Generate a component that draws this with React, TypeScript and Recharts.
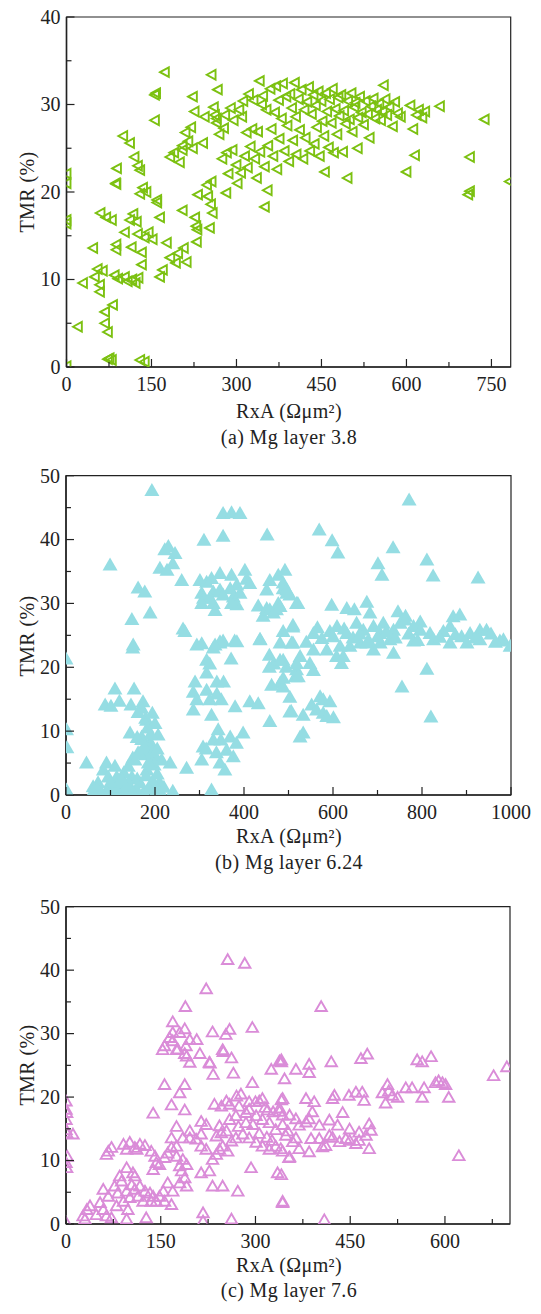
import { ScatterChart, Scatter, XAxis, YAxis, ReferenceArea } from "recharts";

type Pt = [number, number];

// (a) Mg layer 3.8 — [RxA, TMR]
const mg38: Pt[] = [
  [0, 22.1], [0, 21], [0, 16.8], [0, 16.4], [0, 0.1],
  [20, 4.6], [29, 9.6], [47, 13.6], [50, 10.3], [55, 11.2], [59, 9.4], [59, 8.6], [60, 17.6], [64, 11], [68, 6.3],
  [68, 5.0], [70, 17.1], [73, 4.0], [73, 0.9], [76, 1.0], [80, 0.8], [80, 16.8], [82, 7.1], [85, 10.5], [87, 21],
  [88, 20.9], [88, 14], [88, 13.4], [89, 22.7], [91, 10.1], [100, 26.4], [103, 15.4], [103, 10.3], [108, 9.8],
  [112, 25.6], [112, 16.8], [115, 13.7], [116, 10], [118, 17.5], [120, 24], [122, 9.6], [124, 16.6], [126, 23],
  [126, 15.2], [127, 10.2], [130, 19.8], [130, 22.5], [130, 0.8], [133, 13.1], [133, 11.7], [135, 20.5], [138, 0.6],
  [138, 14.8], [141, 20], [145, 15.4], [152, 14.6], [156, 31.1], [158, 31.3], [156, 28.2], [160, 18.8], [160, 19.1],
  [165, 17.1], [165, 10.3], [170, 11.1], [173.5, 33.7], [177, 14.2], [183, 24], [183, 12.5], [190, 24.5], [193, 11.9],
  [197, 13.0], [200, 23.4], [205, 25.3], [205, 17.9], [205, 24.8], [207, 13.6], [212, 12], [210, 26.8], [215, 25.8],
  [220, 27.4], [223, 25], [223, 30.9], [227, 17.1], [229, 16.1], [231, 15.7], [230, 14.3], [226, 29.2], [232, 19.7],
  [241, 25.6], [244, 28.6], [248, 20.8], [250, 19.5], [253, 15.9], [255, 18.6], [258, 17.6], [256, 33.4], [256, 21.2],
  [260, 29.7], [262, 28.8], [265, 27.9], [265, 28.4], [267, 31.7], [270, 26.6], [275, 23.8], [278, 27.3], [280, 28.8],
  [282, 19.9], [283, 24.5], [286, 22.1], [290, 29.6], [293, 24.8], [295, 28.2], [300, 23.1], [302, 21], [305, 29.4],
  [308, 22.2], [310, 28.6], [312, 30.4], [315, 24.1], [318, 26.8], [320, 22.8], [322, 31.2], [325, 25.2], [328, 27.2],
  [330, 30.5], [333, 23.8], [336, 21.6], [338, 26.9], [341, 32.7], [342, 24.6], [345, 30], [347, 31], [350, 18.3],
  [350, 22.9], [353, 29.4], [355, 20.2], [356, 25.3], [360, 31.8], [362, 27.2], [365, 24.1], [368, 29.1], [370, 32.1],
  [372, 22.6], [375, 30.5], [376, 26.1], [380, 28.4], [382, 32.4], [385, 24.7], [388, 30.9], [390, 27.6], [393, 23.5],
  [395, 31.2], [398, 29.6], [400, 25.9], [403, 32.5], [405, 28.6], [406, 24.3], [410, 30.6], [412, 27.1], [415, 31.7],
  [418, 23.8], [420, 29.4], [422, 26.2], [425, 30.3], [428, 32], [430, 24.7], [433, 28.9], [436, 31.1], [438, 25.5],
  [440, 29.9], [442, 27.4], [445, 31.5], [447, 24.1], [450, 30.4], [452, 28.1], [455, 26.4], [456, 22.3], [458, 31.3],
  [460, 29.2], [463, 25.1], [465, 30.6], [468, 27.9], [470, 31.8], [472, 24.5], [475, 29.5], [478, 26.6], [480, 30.8],
  [482, 28.7], [485, 31.1], [488, 24.6], [490, 29.3], [493, 27.8], [496, 21.6], [497, 30.4], [500, 28.3], [503, 31.3],
  [505, 26.9], [508, 29.7], [510, 30.2], [514, 25], [515, 28.5], [518, 30.9], [521, 29.1], [525, 27.7], [528, 30.4],
  [532, 28.9], [535, 26.2], [538, 29.8], [542, 30.7], [545, 28.4], [548, 29.4], [552, 30.1], [555, 28.2], [558, 29.2],
  [560, 32.2], [563, 30.6], [566, 28.8], [570, 29.7], [576, 27.5], [580, 30.3], [585, 29], [590, 28.6], [600, 22.3],
  [607, 29.9], [612, 27.2], [615, 24.2], [618, 28.8], [622, 29.4], [628, 28.5], [633, 29.2], [659, 29.8], [709, 19.7],
  [712, 20.1], [712, 24], [738, 28.3], [782, 21.2],
];

// (b) Mg layer 6.24
const mg624: Pt[] = [
  [0, 21.3], [1, 10.2], [2, 7.4], [1, 0.8], [3, 0.3],
  [46, 5.0], [84, 3.9], [91, 5], [95, 2.8], [72, 1.9], [61, 1.3], [70, 0.8], [114, 2.8], [129, 2.3], [148, 2.8],
  [166, 1.9], [189, 1.3], [204, 0.8], [211, 0.7], [234, 5], [271, 4.2], [100, 0.8], [123, 0.8], [146, 0.8],
  [144, 9.7], [170, 9.1], [189, 8.3], [207, 9.4], [187, 7.4], [179, 6.3], [200, 6], [162, 6.6], [150, 5.8], [198, 4.7],
  [182, 3.9], [110, 16.6], [153, 16.6], [88, 14.1], [101, 13.9], [120, 14.7], [146, 14.1], [173, 14.6], [170, 13.6],
  [162, 12.9], [181, 11.7], [179, 12], [150, 23],
  [120, 1.5], [130, 3.5], [140, 4.5], [155, 5.5], [160, 2.5], [165, 6.5], [175, 7.5], [180, 3], [185, 5], [190, 9.5],
  [195, 6.8], [205, 7.2], [210, 2], [215, 5.5], [220, 1.2], [175, 0.5], [160, 0.7], [135, 0.9], [110, 1.2], [100, 2],
  [90, 0.5], [80, 0.3], [140, 1.8], [125, 2.5], [150, 0.4], [195, 2.2], [185, 1], [170, 8.7], [205, 3.3], [183, 10.5],
  [200, 11.2], [160, 9], [194, 12.8], [110, 4.5], [60, 0.4], [240, 0.6], [327, 0.8],
  [308, 7.5], [331, 8.6], [342, 10.2], [348, 8.6], [369, 9.1], [383, 8.1], [398, 9.7], [376, 6], [346, 5], [357, 3.9],
  [305, 5.5], [315, 7.2], [338, 6.6], [361, 7],
  [290, 17.7], [316, 19.1], [339, 17.7], [354, 17.7], [286, 16.1], [316, 16.4], [339, 15.8], [294, 14.9], [286, 13.3],
  [323, 14.9], [349, 14.9], [380, 13.8], [413, 14.6], [432, 14.3], [327, 12.5], [458, 11.5], [503, 13], [526, 9.1],
  [316, 21.1], [323, 20.5], [371, 21.3], [457, 21.9], [467, 20.5], [488, 21.1], [457, 20], [495, 20], [518, 19.6],
  [515, 18.5], [481, 17.5], [462, 17.2], [488, 16.9], [503, 15.3],
  [294, 23.5], [331, 23], [346, 23.8], [353, 24.1], [379, 24.1], [436, 24.4], [488, 25.6], [481, 23.8], [507, 23.8],
  [267, 25.6],
  [193, 47.7], [353, 44.1], [372, 44.2], [391, 44.1], [310, 39.9], [353, 40.5], [452, 40.7], [222, 38.4], [230, 38.9],
  [245, 37.8], [240, 36.2], [99, 36], [211, 35.5], [227, 35.2], [260, 33.6], [162, 32.4], [177, 31.8], [189, 28.5],
  [148, 27.5], [263, 26],
  [301, 33.6], [316, 33.3], [327, 33.9], [346, 34.7], [372, 34.4], [402, 35.2], [406, 33.8], [413, 33.1], [384, 32.9],
  [369, 32.3], [331, 31.8], [305, 31.6], [309, 30.8], [323, 30.8], [346, 32.1], [353, 31.3], [376, 31], [391, 31.6],
  [384, 29.8], [372, 30], [305, 30], [331, 30], [335, 28.9], [432, 29.6], [451, 29.2], [443, 28], [458, 29], [473, 29],
  [477, 30], [466, 28.5], [451, 32.1], [458, 33.6], [477, 34.4], [492, 35.2], [488, 32.3], [496, 31.6], [503, 31.3],
  [518, 30], [510, 26.3], [436, 24.3], [384, 24], [346, 24], [335, 23.5], [305, 23.7], [151, 23.5],
  [771, 46.2], [569, 41.5], [598, 39.8], [611, 37.9], [735, 38.7], [701, 36.2], [710, 34.4], [811, 36.8], [825, 34.3],
  [926, 34], [488, 33.2], [496, 32.1], [521, 30], [481, 29.5], [510, 26.6],
  [597, 29.7], [631, 29.2], [648, 29], [676, 30.2], [683, 28.5], [746, 28.7], [763, 28], [796, 27.1], [870, 27.9],
  [885, 28.2],
  [556, 25.3], [593, 25.6], [609, 26.4], [631, 25.3], [653, 26.9], [668, 25.8], [691, 26.4], [706, 25.3], [713, 26.9],
  [736, 25.8], [751, 26.9], [762, 27.4], [781, 26.4], [796, 25.8], [818, 25.3], [848, 25.6], [863, 26.4], [889, 24.8],
  [908, 25.3], [930, 25.8], [945, 25.8], [983, 24.3], [998, 23.3],
  [510, 23.8], [481, 21.1], [488, 18.3], [518, 20.6], [526, 21.7], [548, 20.6], [556, 19.5], [522, 18.5], [608, 21.7],
  [619, 20.6], [623, 21.7], [556, 22.7], [586, 22.7], [616, 23.3], [638, 23.3], [661, 23.8], [691, 22.7], [736, 22.2],
  [706, 23.8], [676, 23.8], [728, 24.3], [781, 24.1], [826, 24.3], [863, 23.8], [901, 23.8], [930, 24.3], [975, 24.1],
  [575, 24.5], [600, 24.8], [645, 24.6], [660, 25.2], [700, 24.8], [720, 25.6], [740, 24.6], [770, 25.2], [790, 24.2],
  [840, 24.7], [875, 25.1], [920, 24.6], [955, 25.2], [965, 23.9], [540, 23.9], [565, 26.2], [625, 26], [680, 24.2],
  [811, 19.7], [755, 16.9], [820, 12.2], [533, 9.7], [552, 14.1], [571, 15.4], [578, 14.9], [593, 14.6], [563, 13.3],
  [578, 12.8], [601, 12.1], [506, 13.1], [533, 12.5], [586, 12.3],
];

// (c) Mg layer 7.6
const mg76: Pt[] = [
  [0, 19.3], [0, 18], [1, 17.5], [0, 16.4], [0, 14.8], [1, 14.3], [11, 14.1], [2, 10.6], [0, 9.6], [1, 8.8], [0, 0.2],
  [64, 10.9], [72, 12], [91, 12.5], [101, 12.8], [109, 12], [117, 12.5], [125, 12.3], [96, 11.7], [112, 11.7], [67, 11.4],
  [96, 8.8], [85, 7.5], [88, 6.7], [106, 8], [109, 7.5], [77, 5.9], [59, 5.4], [67, 4.3], [54, 3.3], [38, 2.8],
  [33, 2.2], [27, 1.2], [30, 0.7], [48, 1.4], [64, 1.2], [72, 0.9], [96, 0.7], [80, 2.8], [91, 3.5], [101, 4.1],
  [109, 5.4], [117, 5.9], [125, 5.1], [133, 4.8], [138, 4.3], [148, 4.3], [156, 3.5], [167, 3], [98, 2.2], [127, 0.9],
  [82, 4.8], [96, 5.1], [104, 6.1], [114, 4.3], [122, 3.5], [135, 3.5], [143, 3.5], [154, 5.1], [161, 6.4], [169, 5.1],
  [59, 2.2],
  [135, 11.4], [141, 10.6], [143, 9.6], [138, 8.5], [148, 9.3], [156, 10.4], [161, 11.1], [167, 12], [167, 13.5],
  [175, 12.2], [185, 13.5], [196, 13.5], [206, 13.3], [214, 14.1], [214, 12.2], [222, 11.7], [175, 10.6], [185, 10.1],
  [191, 9.3], [180, 9.1], [183, 8.3], [188, 7.2], [180, 6.4], [191, 5.9], [214, 8], [227, 8.3], [232, 10.1], [238, 10.9],
  [243, 11.7], [248, 12.2], [256, 11.4], [262, 13], [269, 13.5], [280, 14.1], [290, 13.5], [301, 12.8], [311, 12.2],
  [322, 11.7], [332, 12.2], [343, 11.4], [353, 10.4], [364, 13.5], [351, 14.6], [343, 15.6], [332, 14.8], [322, 15.9],
  [311, 16.4], [301, 17], [290, 18], [285, 17.5], [274, 18.5], [259, 18.8], [246, 18.5], [259, 16.4], [269, 17],
  [243, 15.4], [238, 13.8], [246, 14.3], [254, 14.6], [232, 5.9], [248, 5.9], [272, 5.1], [293, 8.8], [335, 8],
  [343, 3.5], [217, 1.7], [217, 0.4], [262, 0.7],
  [156, 21.9], [188, 21.9], [167, 18.7], [180, 20.6], [188, 17.9], [138, 17.4], [295, 22.2], [341, 19.5], [325, 24.3],
  [341, 25.5], [346, 22.8], [364, 24.3], [214, 16.1], [222, 15.6], [175, 15.3], [196, 14.6],
  [300, 19.2], [315, 18.3], [328, 17.6], [296, 15.6], [306, 14.2], [318, 13.6], [326, 13.1], [273, 15.3], [285, 15.9],
  [235, 18.8], [254, 19.3], [270, 20.1], [277, 20.4], [290, 19.2], [306, 19.3], [311, 19.7], [319, 17.9], [338, 17.7],
  [256, 41.6], [283, 41], [222, 37], [189, 34.2], [169, 31.8], [188, 30.7], [180, 30.1], [169, 30.1], [164, 29.3],
  [169, 28.8], [156, 28], [177, 27.5], [190, 28], [196, 29], [207, 29], [188, 26.8], [196, 25.4], [212, 26.8],
  [227, 25.4], [248, 27.4], [262, 26.1], [232, 30.2], [253, 29.8], [259, 30.6], [295, 30.9], [341, 25.8],
  [153, 27.4], [175, 27.4], [191, 26.4], [233, 23.5], [249, 27.1], [265, 23.7], [228, 25.3],
  [338, 25.6], [385, 25.1], [385, 23.8], [420, 25.5], [467, 26], [477, 26.7], [556, 25.8], [564, 25.5], [578, 26.3],
  [677, 23.3], [698, 24.7], [404, 34.2],
  [509, 21.9], [501, 20.6], [511, 20.9], [517, 20.2], [506, 19], [525, 19.9], [538, 21.4], [548, 21.4], [567, 21.4],
  [585, 22.2], [596, 22.2], [590, 22.5], [601, 21.9], [564, 19.9], [606, 19.9], [425, 20.2], [422, 19.7], [448, 20.2],
  [459, 20.7], [469, 20.7], [472, 19.4], [380, 19.7], [393, 19.2], [343, 19.7], [438, 17.5], [622, 10.7],
  [338, 18.2], [343, 17.1], [354, 17.1], [364, 16.5], [369, 15.5], [380, 16], [390, 17.6], [385, 16.5], [401, 15.5],
  [417, 16.3], [430, 15.5], [449, 14.9], [464, 14.4], [480, 15.7], [483, 14.7], [475, 13.9], [480, 11.8], [459, 12.6],
  [443, 13.4], [433, 12.9], [422, 13.6], [411, 12.3], [406, 12.1], [388, 13.4], [385, 11.3], [369, 11.8], [359, 12.9],
  [348, 13.9], [340, 11.8], [354, 10.5], [417, 13.9], [449, 13.1], [464, 13.1], [401, 13.4],
  [343, 3.3], [409, 0.6], [341, 7.7],
];

const xTicksA = [0, 75, 150, 225, 300, 375, 450, 525, 600, 675, 750];
const yTicksA = [0, 5, 10, 15, 20, 25, 30, 35, 40];
const xTicksB = [0, 100, 200, 300, 400, 500, 600, 700, 800, 900, 1000];
const yTicksB = [0, 5, 10, 15, 20, 25, 30, 35, 40, 45, 50];
const xTicksC = [0, 75, 150, 225, 300, 375, 450, 525, 600, 675];
const yTicksC = [0, 5, 10, 15, 20, 25, 30, 35, 40, 45, 50];

const FONT = '"Liberation Serif", "DejaVu Serif", serif';
const INK = "#222";
const FS = 20;

const GREEN = "#7cc111";
const CYAN = "#95dde3";
const PINK = "#da8cd8";

// axis bands are kept thin; labels spill outside them into the svg margin
const X_AXIS_H = 10;
const Y_AXIS_W = 10;

function xTick(labelEvery: number) {
  return (p: any) => {
    const { x, y, payload } = p;
    const v = payload.value;
    const major = v % labelEvery === 0;
    return (
      <g>
        <line x1={x} x2={x} y1={y} y2={y - (major ? 8 : 5)} stroke={INK} strokeWidth={1.2} />
        {major && (
          <text x={x} y={y + 23.5} textAnchor="middle" fontSize={FS} fontFamily={FONT} fill={INK}>
            {v}
          </text>
        )}
      </g>
    );
  };
}

function yTick(labelEvery: number) {
  return (p: any) => {
    const { x, y, payload } = p;
    const v = payload.value;
    const major = v % labelEvery === 0;
    return (
      <g>
        <line x1={x} x2={x + (major ? 8 : 5)} y1={y} y2={y} stroke={INK} strokeWidth={1.2} />
        {major && (
          <text x={x - 6} y={y + 6.8} textAnchor="end" fontSize={FS} fontFamily={FONT} fill={INK}>
            {v}
          </text>
        )}
      </g>
    );
  };
}

const leftTri = (p: any) => {
  const { cx, cy } = p;
  return (
    <path
      d={`M${cx - 4.8},${cy} L${cx + 4},${cy - 4.8} L${cx + 4},${cy + 4.8} Z`}
      fill="none"
      stroke={GREEN}
      strokeWidth={1.9}
    />
  );
};

const filledTri = (p: any) => {
  const { cx, cy } = p;
  return <path d={`M${cx},${cy - 7.5} L${cx + 7.5},${cy + 5.5} L${cx - 7.5},${cy + 5.5} Z`} fill={CYAN} />;
};

const openTri = (p: any) => {
  const { cx, cy } = p;
  return (
    <path
      d={`M${cx},${cy - 5.8} L${cx + 5.7},${cy + 4} L${cx - 5.7},${cy + 4} Z`}
      fill="none"
      stroke={PINK}
      strokeWidth={1.9}
    />
  );
};

interface PanelProps {
  top: number;
  height: number;
  plotTop: number;
  plotBottom: number;
  plotLeft: number;
  plotRight: number;
  points: Pt[];
  xMax: number;
  yMax: number;
  xTicks: number[];
  yTicks: number[];
  xEvery: number;
  yEvery: number;
  shape: any;
}

function Panel(props: PanelProps) {
  const { top, height, plotTop, plotBottom, plotLeft, plotRight, points, xMax, yMax, xTicks, yTicks, xEvery, yEvery, shape } = props;
  const data = points.map(([x, y]) => ({ x, y }));
  const margin = {
    top: plotTop,
    right: 541 - plotRight,
    bottom: height - plotBottom - X_AXIS_H,
    left: plotLeft - Y_AXIS_W,
  };
  return (
    <div style={{ position: "absolute", left: 0, top }}>
      <ScatterChart width={541} height={height} margin={margin}>
        <XAxis
          type="number"
          dataKey="x"
          domain={[0, xMax]}
          ticks={xTicks}
          interval={0}
          tickSize={0}
          tickMargin={0}
          tickLine={false}
          tick={xTick(xEvery)}
          axisLine={{ stroke: INK, strokeWidth: 1.5 }}
          height={X_AXIS_H}
          allowDataOverflow
        />
        <YAxis
          type="number"
          dataKey="y"
          domain={[0, yMax]}
          ticks={yTicks}
          interval={0}
          tickSize={0}
          tickMargin={0}
          tickLine={false}
          tick={yTick(yEvery)}
          axisLine={{ stroke: INK, strokeWidth: 1.5 }}
          width={Y_AXIS_W}
          allowDataOverflow
        />
        <ReferenceArea x1={0} x2={xMax} y1={0} y2={yMax} fill="none" stroke={INK} strokeWidth={1.2} ifOverflow="visible" />
        <Scatter data={data} shape={shape} isAnimationActive={false} />
      </ScatterChart>
    </div>
  );
}

function Txt({ x, y, children, rotate }: { x: number; y: number; children: any; rotate?: boolean }) {
  return (
    <div
      style={{
        position: "absolute",
        left: x,
        top: y,
        transform: `translate(-50%, -50%)${rotate ? " rotate(-90deg)" : ""}`,
        fontFamily: FONT,
        fontSize: FS,
        color: INK,
        whiteSpace: "nowrap",
        lineHeight: 1,
        letterSpacing: 0.4,
      }}
    >
      {children}
    </div>
  );
}

export default function App() {
  return (
    <div style={{ position: "absolute", left: 0, top: 0, width: 541, height: 1314, background: "#fff" }}>
      <Panel
        top={0}
        height={400}
        plotTop={17}
        plotBottom={367}
        plotLeft={66.5}
        plotRight={510.7}
        points={mg38}
        xMax={784}
        yMax={40}
        xTicks={xTicksA}
        yTicks={yTicksA}
        xEvery={150}
        yEvery={10}
        shape={leftTri}
      />
      <Txt x={27} y={192} rotate>TMR (%)</Txt>
      <Txt x={289} y={411}>RxA (Ωμm²)</Txt>
      <Txt x={289} y={437}>(a) Mg layer 3.8</Txt>

      <Panel
        top={455}
        height={370}
        plotTop={20.7}
        plotBottom={340}
        plotLeft={66}
        plotRight={511}
        points={mg624}
        xMax={1000}
        yMax={50}
        xTicks={xTicksB}
        yTicks={yTicksB}
        xEvery={200}
        yEvery={10}
        shape={filledTri}
      />
      <Txt x={27} y={636} rotate>TMR (%)</Txt>
      <Txt x={289} y={836}>RxA (Ωμm²)</Txt>
      <Txt x={289} y={862}>(b) Mg layer 6.24</Txt>

      <Panel
        top={890}
        height={365}
        plotTop={16.7}
        plotBottom={334}
        plotLeft={66}
        plotRight={510}
        points={mg76}
        xMax={703}
        yMax={50}
        xTicks={xTicksC}
        yTicks={yTicksC}
        xEvery={150}
        yEvery={10}
        shape={openTri}
      />
      <Txt x={27} y={1065} rotate>TMR (%)</Txt>
      <Txt x={289} y={1265}>RxA (Ωμm²)</Txt>
      <Txt x={289} y={1290}>(c) Mg layer 7.6</Txt>
    </div>
  );
}
